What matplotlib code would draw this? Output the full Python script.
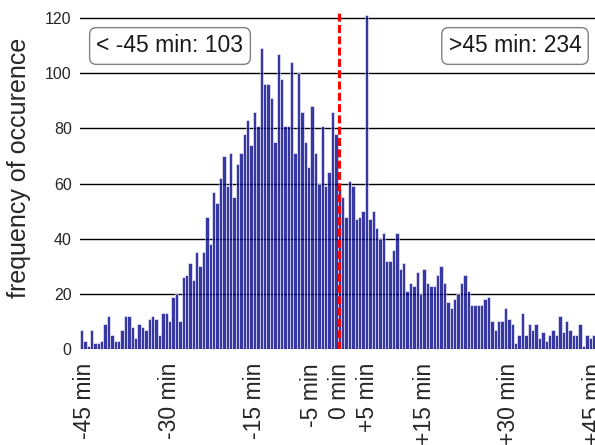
import numpy as np
import matplotlib
matplotlib.use('Agg')
import matplotlib.pyplot as plt

plt.rcParams['font.family'] = ['Liberation Sans', 'DejaVu Sans']

#########################################
# conteo por bin de 0.6 min (-45.6..45) #
#########################################
bin_idx = np.arange(-76, 76)
counts = [
    7, 3, 1, 7, 2, 2, 3, 9, 12, 5, 3, 3, 7, 12, 12, 8, 4, 9, 8, 7,
    11, 12, 11, 5, 13, 13, 10, 19, 20, 10, 26, 27, 31, 25, 35, 30, 35, 48, 38, 57,
    53, 62, 70, 59, 71, 55, 67, 71, 78, 83, 74, 86, 81, 109, 96, 96, 91, 75, 107, 98,
    81, 81, 104, 71, 100, 86, 75, 66, 88, 71, 60, 81, 59, 64, 86, 78, 58, 55, 48, 61,
    59, 47, 48, 50, 121, 47, 50, 44, 40, 42, 32, 32, 36, 42, 29, 31, 21, 24, 23, 28,
    20, 29, 24, 23, 23, 27, 30, 24, 17, 15, 18, 20, 24, 27, 21, 16, 16, 16, 16, 18,
    19, 10, 7, 10, 10, 15, 11, 9, 2, 5, 13, 5, 9, 7, 9, 4, 6, 3, 5, 7,
    5, 12, 6, 10, 7, 5, 5, 9, 1, 5, 4, 5,
]
bin_width = 0.6
centers = bin_idx * bin_width

tick_pos = [-45, -30, -15, -5, 0, 5, 15, 30, 45]
tick_labels = ['-45 min', '-30 min', '-15 min', '-5 min', '0 min',
               '+5 min', '+15 min', '+30 min', '+45 min']

early_text = '< -45 min: 103'
late_text = '>45 min: 234'

fig = plt.figure(figsize=(5.95, 4.45), dpi=100)
ax = fig.add_axes([80 / 595, 96 / 445, 515 / 595, 336.5 / 445])

ax.bar(centers, counts, width=bin_width, color='darkblue', alpha=0.78,
       edgecolor='white', linewidth=0.5)
ax.axvline(0, color='red', lw=2.2, ls=(0, (2.6, 1.1)))

ax.set_xlim(-45.85, 45.22)
ax.set_ylim(0, 122)
ax.set_yticks(np.arange(0, 121, 20))
ax.set_xticks(tick_pos)
ax.set_xticklabels(tick_labels, rotation=90)

ax.yaxis.grid(True, color='k', lw=1.0)
ax.set_axisbelow(True)
for s in ax.spines.values():
    s.set_visible(False)
ax.tick_params(axis='y', length=0, pad=6, labelsize=11.5, labelcolor='#262626')
ax.tick_params(axis='x', length=0, pad=10, labelsize=16.5, labelcolor='#262626')

fig.text(19 / 595, 1 - 168 / 445, 'frequency of occurence', rotation=90,
         ha='center', va='center', fontsize=18, color='#262626')

box = dict(boxstyle='round,pad=0.3', facecolor='white', edgecolor='#808080', lw=1.0)
fig.text(170 / 595, 1 - 46 / 445, early_text, ha='center', va='center',
         fontsize=16.5, color='#1a1a1a', bbox=box)
fig.text(515 / 595, 1 - 46 / 445, late_text, ha='center', va='center',
         fontsize=16.5, color='#1a1a1a', bbox=box)

fig.savefig('out.png', dpi=100)
